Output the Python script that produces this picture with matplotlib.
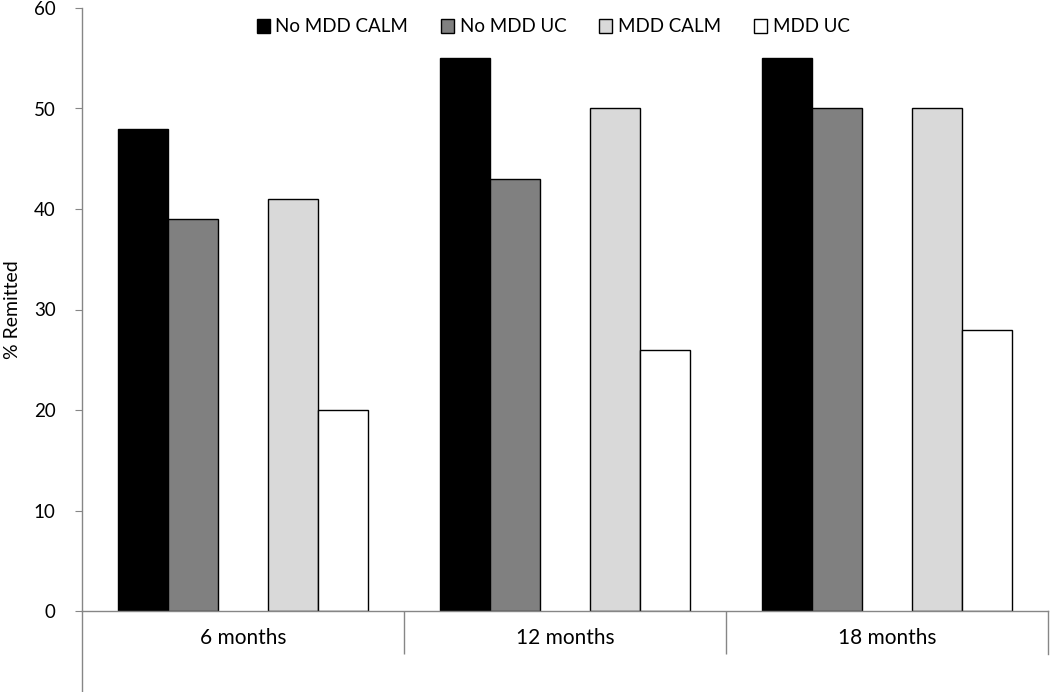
import matplotlib.pyplot as plt
from matplotlib.lines import Line2D
import numpy as np

periods = ["6 months", "12 months", "18 months"]
series = ["No MDD CALM", "No MDD UC", "MDD CALM", "MDD UC"]
no_mdd_calm = [48, 55, 55]
no_mdd_uc = [39, 43, 50]
mdd_calm = [41, 50, 50]
mdd_uc = [20, 26, 28]

values = [no_mdd_calm, no_mdd_uc, mdd_calm, mdd_uc]
colors = ["#000000", "#808080", "#d9d9d9", "#ffffff"]
slots = [-2, -1, 1, 2]  # middle slot left empty
slot_w = 50 / 322

plt.rcParams['font.family'] = ['Lato', 'DejaVu Sans']
fig = plt.figure(figsize=(10.5, 6.92), dpi=100)
ax = fig.add_axes([82 / 1050, 81 / 692, 966 / 1050, 603 / 692])

x = np.arange(len(periods))
for vals, c, s, name in zip(values, colors, slots, series):
    ax.bar(x + s * slot_w, vals, width=slot_w, color=c, edgecolor="black",
           linewidth=1, label=name)

ax.set_xlim(-0.5, len(periods) - 0.5)
ax.set_ylim(0, 60)
ax.set_yticks(range(0, 61, 10))
ax.tick_params(axis="y", labelsize=13.5, length=5, color="#868686", pad=14)
ax.set_ylabel("% Remitted", fontsize=14, labelpad=9)

# category axis: dividers as major ticks, labels as minor ticks
ax.set_xticks(np.arange(0.5, len(periods) - 1))
ax.set_xticklabels([])
ax.tick_params(axis="x", which="major", length=31, color="#868686", width=1)
ax.set_xticks(x, minor=True)
ax.set_xticklabels(periods, minor=True, fontsize=15)
ax.tick_params(axis="x", which="minor", length=0, pad=12)

for side in ["top", "right"]:
    ax.spines[side].set_visible(False)
for side in ["left", "bottom"]:
    ax.spines[side].set_color("#868686")
    ax.spines[side].set_linewidth(1)

# extensions of the axis box below the plot
ax.add_line(Line2D([0, 0], [0, -81 / 603], transform=ax.transAxes,
                   color="#868686", lw=1, clip_on=False))
ax.add_line(Line2D([1, 1], [0, -43 / 603], transform=ax.transAxes,
                   color="#868686", lw=1, clip_on=False))

fig.legend(loc="center", bbox_to_anchor=(553 / 1050, 1 - 27 / 692), ncol=4,
           frameon=False, fontsize=13.5, handlelength=0.7, handleheight=0.7,
           handletextpad=0.3, columnspacing=1.75)

fig.savefig("out.png", dpi=100)
